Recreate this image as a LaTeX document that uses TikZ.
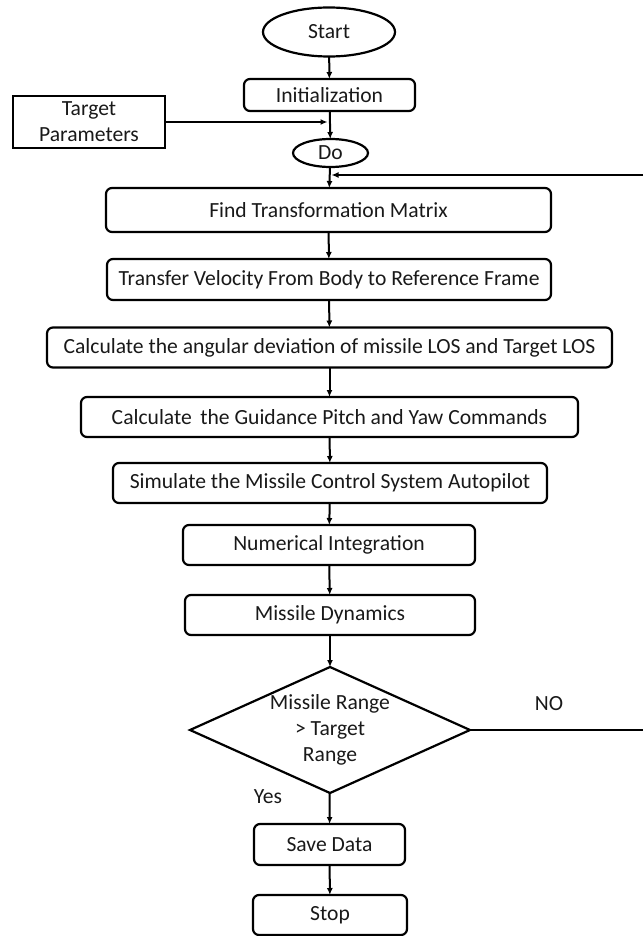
\documentclass[tikz,border=0pt]{standalone}
\usepackage{fontspec}
\setmainfont{Carlito}
\usetikzlibrary{shapes.geometric,arrows.meta}
\begin{document}
\begin{tikzpicture}[x=1pt,y=-1pt,
  every node/.style={font=\fontsize{21.6}{26}\selectfont, text=black!90, inner sep=0pt, outer sep=0pt},
  box/.style={draw, line width=2.2pt, rounded corners=6pt, align=center},
  sbox/.style={draw, line width=2.2pt, align=center},
  oval/.style={draw, line width=2.2pt, ellipse},
  dia/.style={draw, line width=2.2pt, diamond, align=center, aspect=2.2},
  arr/.style={line width=2pt, -{Latex[length=7pt,width=6pt]}},
  ln/.style={line width=2pt}]
\useasboundingbox (0,0) rectangle (643,936);
\node[oval, minimum width=132pt, minimum height=49pt] (start) at (329,32) {Start};
\node[box, minimum width=171pt, minimum height=32pt] (init) at (329.5,95) {Initialization};
\node[sbox, minimum width=152pt, minimum height=52pt] (tp) at (89,122) {Target\\Parameters};
\node[oval, minimum width=75pt, minimum height=28pt] (do) at (330.5,153) {Do};
\node[box, minimum width=445pt, minimum height=44pt] (find) at (328.5,210) {Find Transformation Matrix};
\node[box, minimum width=444pt, minimum height=41pt] (transfer) at (329,279.5) {Transfer Velocity From Body to Reference Frame};
\node[box, minimum width=565pt, minimum height=40pt] (angular) at (329.5,347.5) {Calculate the angular deviation of missile LOS and Target LOS};
\node[box, minimum width=497pt, minimum height=40pt] (guid) at (329.5,417) {Calculate\, the Guidance Pitch and Yaw Commands};
\node[box, minimum width=434pt, minimum height=40pt] (sim) at (330,483) {Simulate the Missile Control System Autopilot};
\node[box, minimum width=292pt, minimum height=40pt] (numint) at (329,545) {Numerical Integration};
\node[box, minimum width=290pt, minimum height=40pt] (dyn) at (330,615) {Missile Dynamics};
\node[dia, minimum width=280pt, minimum height=126pt] (dec) at (330,730) {Missile Range\\> Target\\Range};
\node[box, minimum width=151pt, minimum height=41pt] (save) at (329.5,844.5) {Save Data};
\node[box, minimum width=154pt, minimum height=40pt] (stop) at (330,915) {Stop};
\node (no) at (549,704) {NO};
\node (yes) at (268,797) {Yes};
\coordinate (fbR) at (643,175);
\coordinate (noR) at (643,730);
\draw[arr] (start) -- (init);
\draw[arr] (init) -- (do);
\draw[arr, shorten >=3pt] (tp.east) -- (do.north |- tp.east);
\draw[arr] (do) -- (find);
\draw[arr, shorten >=1pt] (fbR) -- (do.south |- fbR);
\draw[arr] (find) -- (transfer);
\draw[arr] (transfer) -- (angular);
\draw[arr] (angular) -- (guid);
\draw[arr] (guid) -- (sim);
\draw[arr] (sim) -- (numint);
\draw[arr] (numint) -- (dyn);
\draw[arr] (dyn) -- (dec);
\draw[ln] (dec.east) -- (noR);
\draw[arr] (dec) -- (save);
\draw[arr] (save) -- (stop);
\end{tikzpicture}
\end{document}
